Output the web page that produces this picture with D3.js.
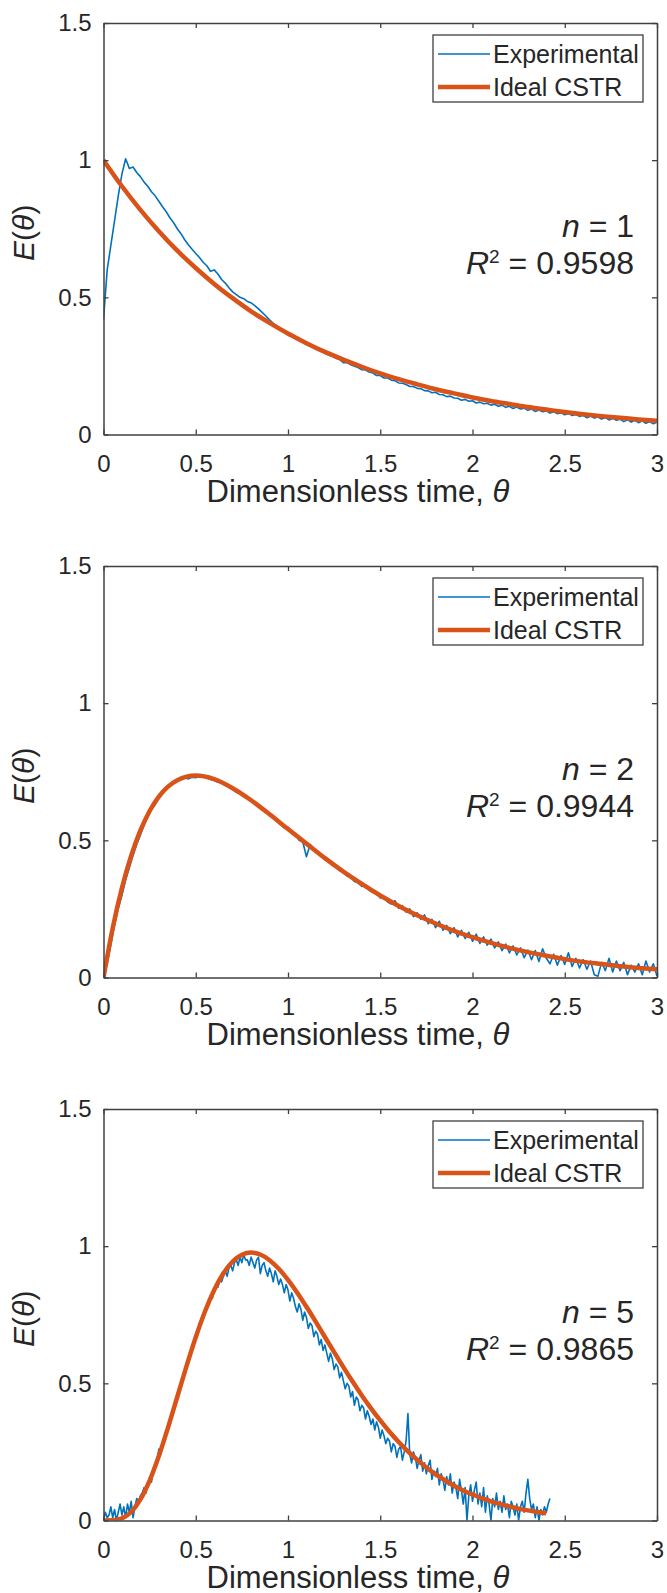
<!DOCTYPE html>
<html>
<head>
<meta charset="utf-8">
<script src="https://cdn.jsdelivr.net/npm/d3@7"></script>
<style>
  html, body { margin: 0; padding: 0; background: #fff; }
  svg { display: block; }
  text { font-family: "Liberation Sans", Arial, Helvetica, sans-serif; fill: #262626; }
</style>
</head>
<body>
<svg id="chart" width="667" height="1593"></svg>
<script>
// ---------------- DATA ----------------
const xTicks = [0, 0.5, 1, 1.5, 2, 2.5, 3];
const xTickLabels = ["0", "0.5", "1", "1.5", "2", "2.5", "3"];
const yTicks = [0, 0.5, 1, 1.5];
const yTickLabels = ["0", "0.5", "1", "1.5"];
const legendLabels = ["Experimental", "Ideal CSTR"];
const nLabels = ["1", "2", "5"];
const r2Labels = ["0.9598", "0.9944", "0.9865"];

// Experimental sampling step in θ
const expStep1 = 0.02, expStep2 = 0.02, expStep5 = 0.01;

// Panel n = 1, experimental E(θ), θ = 0 … 3 every 0.02
const expN1 = [
  0.42,0.60,0.69,0.78,0.87,0.95,1.005,0.97,0.975,0.955,0.94,0.92,0.905,0.885,0.87,0.85,0.83,0.812,0.79,0.772,
  0.75,0.732,0.71,0.692,0.675,0.66,0.645,0.628,0.615,0.595,0.60,0.585,0.565,0.552,0.535,0.52,0.51,0.50,0.495,0.485,
  0.48,0.47,0.458,0.445,0.432,0.418,0.405,0.394,0.383,0.372,0.362,0.357,0.35,0.342,0.337,0.328,0.323,0.315,0.309,0.304,
  0.296,0.290,0.286,0.278,0.273,0.262,0.262,0.254,0.249,0.244,0.236,0.235,0.228,0.224,0.215,0.215,0.206,0.206,0.198,0.196,
  0.188,0.187,0.182,0.175,0.175,0.168,0.167,0.160,0.159,0.152,0.154,0.146,0.145,0.138,0.140,0.133,0.132,0.125,0.128,0.121,
  0.123,0.115,0.118,0.112,0.114,0.107,0.110,0.103,0.107,0.099,0.103,0.095,0.100,0.093,0.096,0.088,0.093,0.084,0.089,0.083,
  0.086,0.078,0.083,0.076,0.079,0.072,0.077,0.069,0.073,0.066,0.070,0.061,0.067,0.060,0.064,0.056,0.062,0.053,0.059,0.052,
  0.056,0.047,0.054,0.045,0.052,0.043,0.050,0.041,0.047,0.039,0.045
];

// Panel n = 2, experimental E(θ), θ = 0 … 3 every 0.02
const expN2 = [
  0.00,0.05,0.12,0.19,0.25,0.30,0.355,0.40,0.445,0.485,0.52,0.555,0.585,0.612,0.63,0.655,0.672,0.688,0.70,0.708,
  0.718,0.722,0.728,0.724,0.73,0.728,0.735,0.73,0.728,0.722,0.718,0.712,0.71,0.70,0.695,0.686,0.675,0.67,0.662,0.652,
  0.645,0.632,0.628,0.612,0.606,0.59,0.586,0.57,0.565,0.545,0.548,0.525,0.522,0.50,0.495,0.44,0.485,0.47,0.452,0.448,
  0.43,0.428,0.41,0.402,0.39,0.385,0.37,0.365,0.35,0.345,0.332,0.336,0.318,0.31,0.31,
  0.29,0.296,0.275,0.268,0.28,0.252,0.262,0.238,0.25,0.222,0.236,0.212,0.228,0.196,0.212,0.182,0.205,0.172,0.19,0.16,
  0.182,0.148,0.172,0.142,0.165,0.132,0.158,0.124,0.148,0.118,0.14,0.108,0.13,0.098,0.122,0.09,0.115,0.082,0.108,0.072,
  0.10,0.065,0.098,0.058,0.105,0.07,0.05,0.085,0.045,0.08,0.048,0.09,0.04,0.07,0.035,0.065,0.03,0.06,0.01,0.005,
  0.055,0.025,0.07,0.02,0.06,0.025,0.055,0.01,0.045,0.02,0.05,0.01,0.06,0.02,0.05,0.005
];

// Panel n = 5, experimental E(θ), θ = 0 … 2.42 every 0.01
const expN5 = [
  0.00,0.03,0.01,0.02,0.05,0.01,0.04,0.00,0.03,0.06,0.02,0.05,0.01,0.06,0.03,0.07,0.01,0.05,0.08,0.07,
  0.09,0.10,0.12,0.10,0.14,0.15,0.14,0.19,0.20,0.22,0.26,0.24,0.28,0.30,0.31,0.35,0.36,0.38,0.41,0.42,
  0.45,0.48,0.49,0.51,0.54,0.57,0.58,0.61,0.62,0.65,0.67,0.68,0.72,0.72,0.74,0.77,0.77,0.79,0.82,0.81,
  0.84,0.85,0.85,0.88,0.87,0.89,0.91,0.89,0.92,0.93,0.91,0.94,0.95,0.93,0.96,0.94,0.97,0.95,
  0.95,0.93,0.96,0.94,0.92,0.95,0.96,0.90,0.93,0.94,0.91,0.89,0.92,0.90,0.87,0.91,0.89,0.86,0.88,0.86,
  0.83,0.86,0.84,0.80,0.83,0.81,0.78,0.76,0.79,0.77,0.73,0.76,0.74,0.70,0.72,0.71,0.67,0.69,0.68,0.64,
  0.66,0.62,0.64,0.61,0.58,0.61,0.59,0.55,0.57,0.56,0.52,0.54,0.51,0.48,0.50,0.49,0.45,0.47,0.42,0.45,
  0.44,0.40,0.42,0.41,0.37,0.40,0.38,0.35,0.37,0.33,0.36,0.34,0.30,0.33,0.31,0.28,0.30,0.29,0.25,0.28,
  0.27,0.23,0.26,0.27,0.22,0.25,0.29,0.39,0.24,0.21,0.25,0.23,0.19,0.22,0.24,0.18,0.21,0.17,0.20,0.22,
  0.15,0.18,0.16,0.19,0.13,0.17,0.15,0.11,0.16,0.13,0.17,0.10,0.14,0.12,0.08,0.15,0.11,0.06,0.12,0.00,
  0.09,0.13,0.07,0.11,0.14,0.06,0.10,0.05,0.12,0.03,0.09,0.06,0.00,0.08,0.05,0.10,0.04,0.07,0.03,0.09,
  0.04,0.06,0.01,0.07,0.05,0.02,0.06,0.00,0.05,0.07,0.03,0.10,0.15,0.08,0.04,0.06,0.01,0.05,0.00,0.04,
  0.02,0.05,0.03,0.06,0.08
];

// Ideal CSTR curves (tanks-in-series model), read at these θ
const idealTheta1 = [0,0.1,0.2,0.3,0.4,0.5,0.6,0.7,0.8,0.9,1.0,1.1,1.2,1.3,1.4,1.5,1.6,1.7,1.8,1.9,2.0,2.1,2.2,2.3,2.4,2.5,2.6,2.7,2.8,2.9,3.0];
const idealN1 = [1.000,0.905,0.819,0.741,0.670,0.607,0.549,0.497,0.449,0.407,0.368,0.333,0.301,0.273,0.247,0.223,0.202,0.183,0.165,0.150,0.135,0.122,0.111,0.100,0.091,0.082,0.074,0.067,0.061,0.055,0.050];

const idealTheta2 = [0,0.05,0.1,0.15,0.2,0.25,0.3,0.4,0.5,0.6,0.7,0.8,0.9,1.0,1.1,1.2,1.3,1.4,1.5,1.6,1.7,1.8,1.9,2.0,2.1,2.2,2.3,2.4,2.5,2.6,2.7,2.8,2.9,3.0];
const idealN2 = [0,0.181,0.327,0.444,0.536,0.607,0.659,0.719,0.736,0.723,0.690,0.646,0.595,0.541,0.488,0.435,0.386,0.341,0.299,0.261,0.227,0.197,0.170,0.147,0.126,0.108,0.0925,0.079,0.067,0.057,0.049,0.041,0.035,0.030];

const idealTheta5 = [0,0.05,0.1,0.15,0.2,0.25,0.3,0.35,0.4,0.45,0.5,0.55,0.6,0.65,0.7,0.75,0.8,0.85,0.9,0.95,1.0,1.05,1.1,1.15,1.2,1.25,1.3,1.35,1.4,1.45,1.5,1.55,1.6,1.65,1.7,1.75,1.8,1.85,1.9,1.95,2.0,2.05,2.1,2.15,2.2,2.25,2.3,2.35,2.4];
const idealN5 = [0,0.0006,0.0079,0.031,0.0767,0.1457,0.2353,0.3395,0.4511,0.5628,0.668,0.7617,0.840,0.9012,0.944,0.9689,0.977,0.9695,0.949,0.9175,0.877,0.8305,0.779,0.7248,0.669,0.6137,0.559,0.5064,0.456,0.4088,0.3646,0.3237,0.2863,0.2520,0.2213,0.1935,0.1687,0.1466,0.1270,0.1097,0.0946,0.0813,0.0697,0.0597,0.0509,0.0434,0.0369,0.0313,0.0265];

// ---------------- LAYOUT ----------------
const plotLeft = 103.5, plotRight = 657;
const plotH = 411.5;
const panelTops = [23, 566, 1109];
const colors = { exp: "#0072BD", ideal: "#D95319", axis: "#404040" };

const panels = [
  { exp: expN1, step: expStep1, it: idealTheta1, iv: idealN1 },
  { exp: expN2, step: expStep2, it: idealTheta2, iv: idealN2 },
  { exp: expN5, step: expStep5, it: idealTheta5, iv: idealN5 }
];

const svg = d3.select("#chart");
const x = d3.scaleLinear().domain([0, 3]).range([plotLeft, plotRight]);

panels.forEach((p, k) => {
  const top = panelTops[k];
  const y = d3.scaleLinear().domain([0, 1.5]).range([top + plotH, top]);
  const g = svg.append("g");

  const clipId = "clip" + k;
  g.append("clipPath").attr("id", clipId)
    .append("rect").attr("x", plotLeft).attr("y", top)
    .attr("width", plotRight - plotLeft).attr("height", plotH);

  const expData = p.exp.map((v, i) => [i * p.step, v]);
  const idealData = p.it.map((t, i) => [t, p.iv[i]]);
  const lineLin = d3.line().x(d => x(d[0])).y(d => y(d[1]));
  const lineSmooth = d3.line().x(d => x(d[0])).y(d => y(d[1])).curve(d3.curveMonotoneX);

  const lines = g.append("g").attr("clip-path", `url(#${clipId})`);
  lines.append("path").datum(expData).attr("d", lineLin)
    .attr("fill", "none").attr("stroke", colors.exp).attr("stroke-width", 1.6)
    .attr("stroke-linejoin", "round");
  lines.append("path").datum(idealData).attr("d", lineSmooth)
    .attr("fill", "none").attr("stroke", colors.ideal).attr("stroke-width", 4.5)
    .attr("stroke-linejoin", "round").attr("stroke-linecap", "butt");

  // box axes with inward ticks
  const tl = -5;
  const axB = d3.axisBottom(x).tickValues(xTicks).tickFormat((d, i) => xTickLabels[i]).tickSizeInner(tl).tickSizeOuter(0).tickPadding(20);
  const axT = d3.axisTop(x).tickValues(xTicks).tickFormat("").tickSizeInner(tl).tickSizeOuter(0);
  const axL = d3.axisLeft(y).tickValues(yTicks).tickFormat((d, i) => yTickLabels[i]).tickSizeInner(tl).tickSizeOuter(0).tickPadding(12);
  const axR = d3.axisRight(y).tickValues(yTicks).tickFormat("").tickSizeInner(tl).tickSizeOuter(0);

  const gb = g.append("g").attr("transform", `translate(0,${top + plotH})`).call(axB);
  const gt = g.append("g").attr("transform", `translate(0,${top})`).call(axT);
  const gl = g.append("g").attr("transform", `translate(${plotLeft},0)`).call(axL);
  const gr = g.append("g").attr("transform", `translate(${plotRight},0)`).call(axR);
  [gb, gt, gl, gr].forEach(a => {
    a.select(".domain").attr("stroke", colors.axis).attr("stroke-width", 1.5);
    a.selectAll(".tick line").attr("stroke", colors.axis).attr("stroke-width", 1.3);
    a.selectAll(".tick text").attr("fill", "#262626")
      .style("font-size", "24px").style("font-family", '"Liberation Sans", Arial, sans-serif');
  });

  // axis labels
  g.append("text")
    .attr("x", 358).attr("y", top + plotH + 67)
    .attr("text-anchor", "middle").style("font-size", "31px")
    .text("Dimensionless time, ")
    .append("tspan").style("font-style", "italic").text("θ");

  const yl = g.append("text")
    .attr("transform", `translate(${34},${top + plotH / 2 + 4}) rotate(-90)`)
    .attr("text-anchor", "middle").style("font-size", "30px");
  yl.append("tspan").style("font-style", "italic").text("E");
  yl.append("tspan").text("(");
  yl.append("tspan").style("font-style", "italic").text("θ");
  yl.append("tspan").text(")");

  // annotation
  const tx = 634;
  const t1 = g.append("text").attr("x", tx).attr("y", top + 214)
    .attr("text-anchor", "end").style("font-size", "32px");
  t1.append("tspan").style("font-style", "italic").text("n");
  t1.append("tspan").text(" = " + nLabels[k]);

  const t2 = g.append("text").attr("x", tx).attr("y", top + 251)
    .attr("text-anchor", "end").style("font-size", "32px");
  t2.append("tspan").style("font-style", "italic").text("R");
  t2.append("tspan").attr("dy", -11).style("font-size", "19px").text("2");
  t2.append("tspan").attr("dy", 11).text(" = " + r2Labels[k]);

  // legend
  const lx0 = 433, lx1 = 643, ly0 = top + 12, ly1 = top + 79;
  g.append("rect").attr("x", lx0).attr("y", ly0).attr("width", lx1 - lx0).attr("height", ly1 - ly0)
    .attr("fill", "#fff").attr("stroke", colors.axis).attr("stroke-width", 1.3);
  const rows = [{ c: colors.exp, w: 1.6 }, { c: colors.ideal, w: 4.5 }];
  rows.forEach((r, i) => {
    const ry = ly0 + 19 + i * 33;
    g.append("line").attr("x1", lx0 + 5).attr("x2", lx0 + 57).attr("y1", ry).attr("y2", ry)
      .attr("stroke", r.c).attr("stroke-width", r.w);
    g.append("text").attr("x", lx0 + 60).attr("y", ry + 9)
      .style("font-size", "25px").text(legendLabels[i]);
  });
});
</script>
</body>
</html>
